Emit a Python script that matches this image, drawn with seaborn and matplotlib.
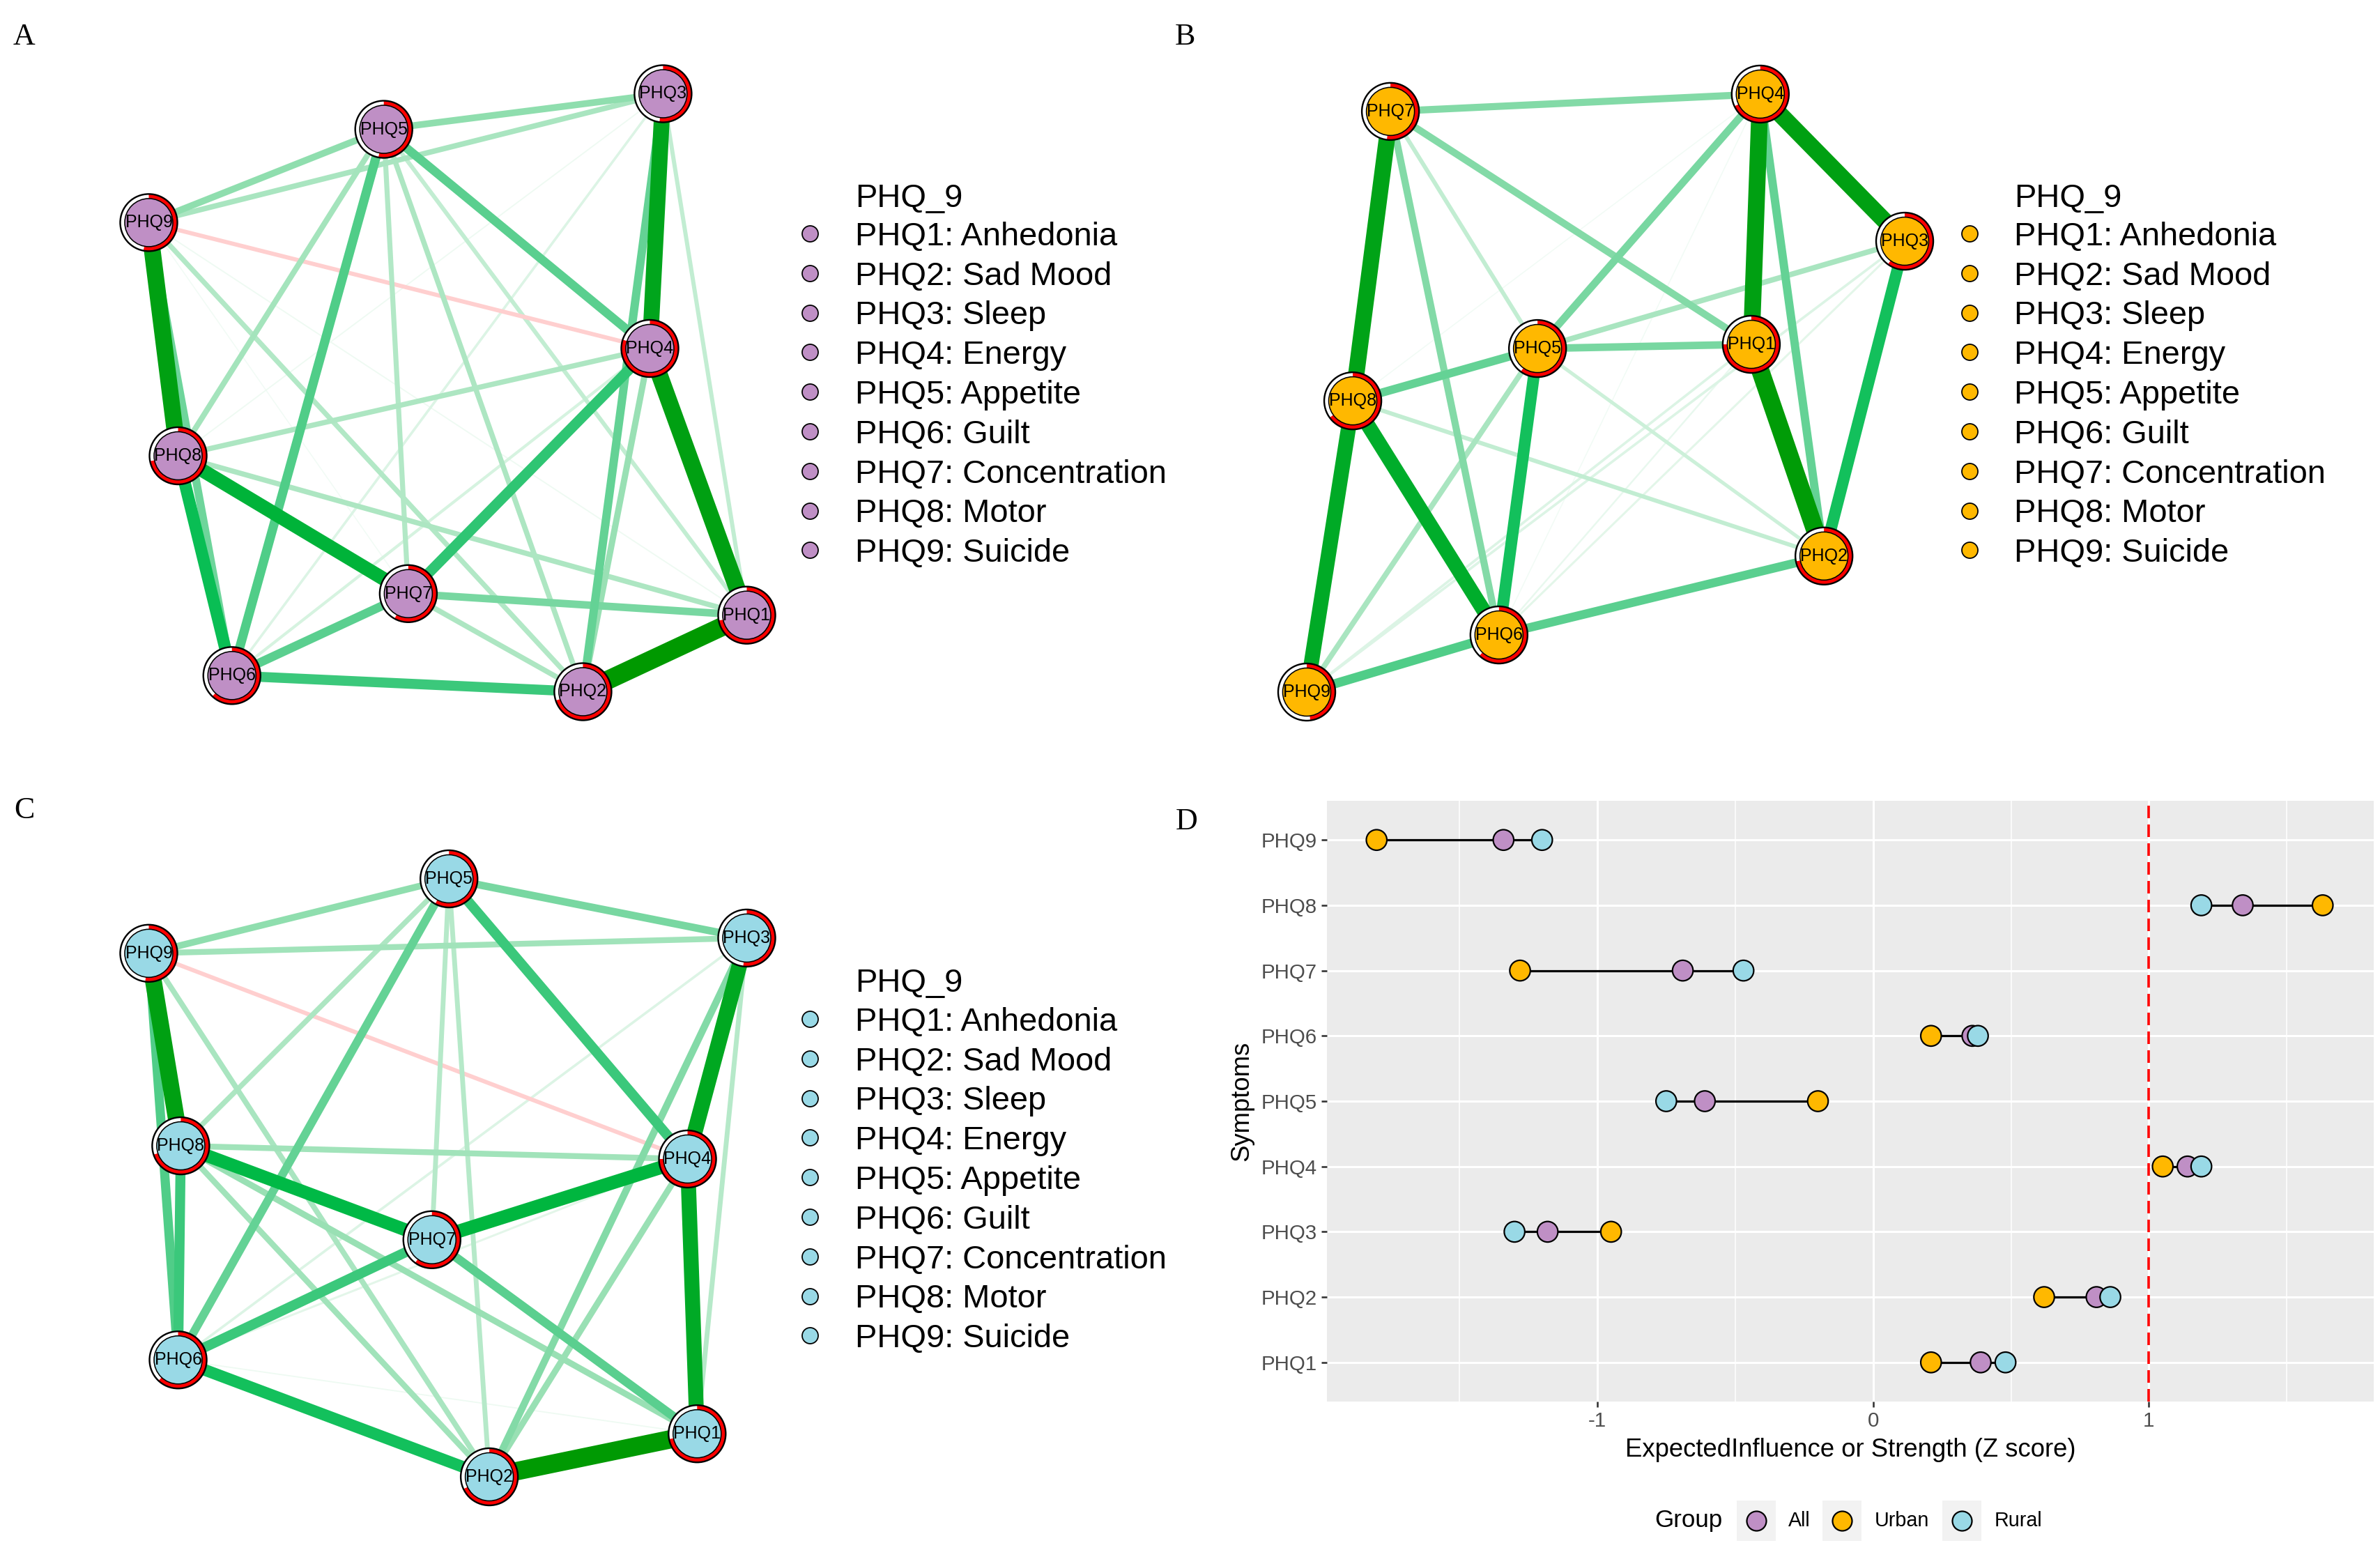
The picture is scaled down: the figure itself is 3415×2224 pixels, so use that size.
import numpy as np
import pandas as pd
import matplotlib
matplotlib.use("Agg")
import matplotlib.pyplot as plt
import seaborn as sns
from matplotlib.patches import Circle, Wedge, Rectangle
from matplotlib.colors import LinearSegmentedColormap

# ---------------- data ----------------
node_labels = ["PHQ1", "PHQ2", "PHQ3", "PHQ4", "PHQ5", "PHQ6", "PHQ7", "PHQ8", "PHQ9"]
legend_items = ["PHQ1: Anhedonia", "PHQ2: Sad Mood", "PHQ3: Sleep", "PHQ4: Energy",
                "PHQ5: Appetite", "PHQ6: Guilt", "PHQ7: Concentration", "PHQ8: Motor",
                "PHQ9: Suicide"]
legend_title = "PHQ_9"

# network layouts (qgraph-style coordinates in [-1, 1])
layout_A_x = [1.000, 0.452, 0.720, 0.676, -0.214, -0.722, -0.132, -0.902, -1.000]
layout_A_y = [-0.744, -1.000, 1.000, 0.148, 0.881, -0.946, -0.672, -0.211, 0.569]
layout_B_x = [0.487, 0.730, 1.000, 0.517, -0.228, -0.357, -0.720, -0.846, -1.000]
layout_B_y = [0.163, -0.545, 0.508, 1.000, 0.149, -0.809, 0.942, -0.026, -1.000]
layout_C_x = [0.834, 0.139, 1.000, 0.802, 0.004, -0.902, -0.053, -0.893, -1.000]
layout_C_y = [-0.856, -1.000, 0.802, 0.063, 1.000, -0.609, -0.207, 0.107, 0.751]

# edges: (node i, node j, weight)
edges_A = [(1, 2, 0.90), (1, 4, 0.80), (3, 4, 0.76), (8, 9, 0.80), (7, 8, 0.66),
           (6, 8, 0.58), (4, 7, 0.50), (2, 6, 0.48), (5, 6, 0.44), (4, 5, 0.42),
           (1, 7, 0.36), (2, 3, 0.40), (6, 7, 0.42), (6, 9, 0.38), (5, 9, 0.32),
           (3, 5, 0.32), (3, 9, 0.26), (5, 8, 0.27), (5, 7, 0.24), (2, 5, 0.25),
           (1, 5, 0.20), (2, 9, 0.24), (1, 9, 0.06), (4, 8, 0.25), (1, 8, 0.25),
           (2, 8, 0.06), (3, 6, 0.12), (3, 8, 0.06), (1, 3, 0.20), (4, 6, 0.14),
           (2, 4, 0.30), (2, 7, 0.25), (7, 9, 0.05), (4, 9, -0.20)]
edges_B = [(1, 4, 0.80), (1, 2, 0.86), (3, 4, 0.80), (7, 8, 0.78), (8, 9, 0.72),
           (6, 8, 0.70), (5, 6, 0.56), (2, 3, 0.56), (2, 6, 0.42), (6, 9, 0.44),
           (2, 4, 0.40), (4, 7, 0.34), (4, 5, 0.36), (1, 5, 0.36), (5, 8, 0.40),
           (1, 7, 0.34), (6, 7, 0.34), (5, 7, 0.20), (3, 5, 0.26), (5, 9, 0.26),
           (2, 8, 0.20), (2, 5, 0.17), (3, 9, 0.12), (1, 9, 0.12), (3, 6, 0.10),
           (4, 8, 0.05), (4, 6, 0.05), (1, 6, 0.08)]
edges_C = [(1, 2, 0.88), (8, 9, 0.80), (3, 4, 0.74), (1, 4, 0.72), (4, 7, 0.64),
           (7, 8, 0.62), (2, 6, 0.56), (6, 8, 0.48), (6, 9, 0.44), (6, 7, 0.48),
           (4, 5, 0.48), (5, 6, 0.40), (1, 7, 0.42), (3, 5, 0.36), (5, 9, 0.32),
           (3, 9, 0.28), (4, 8, 0.28), (2, 3, 0.34), (2, 4, 0.30), (1, 8, 0.30),
           (2, 8, 0.28), (2, 9, 0.26), (5, 8, 0.25), (5, 7, 0.23), (2, 5, 0.23),
           (1, 3, 0.23), (3, 6, 0.12), (1, 6, 0.06), (4, 6, 0.10), (4, 9, -0.20)]

# predictability (red ring fraction)
pie_A = [0.72, 0.70, 0.52, 0.80, 0.53, 0.62, 0.58, 0.72, 0.53]
pie_B = [0.75, 0.72, 0.60, 0.68, 0.60, 0.62, 0.52, 0.65, 0.48]
pie_C = [0.72, 0.68, 0.52, 0.75, 0.58, 0.62, 0.60, 0.70, 0.52]

# panel D: centrality z-scores
symptoms = ["PHQ1", "PHQ2", "PHQ3", "PHQ4", "PHQ5", "PHQ6", "PHQ7", "PHQ8", "PHQ9"]
groups = ["All", "Urban", "Rural"]
z_all = [0.39, 0.81, -1.18, 1.14, -0.61, 0.36, -0.69, 1.34, -1.34]
z_urban = [0.21, 0.62, -0.95, 1.05, -0.20, 0.21, -1.28, 1.63, -1.80]
z_rural = [0.48, 0.86, -1.30, 1.19, -0.75, 0.38, -0.47, 1.19, -1.20]
x_ticks = [-1, 0, 1]
x_minor = [-1.5, -0.5, 0.5, 1.5]
x_limits = (-1.98, 1.815)
x_ref = 1

# ---------------- style ----------------
COL_ALL = "#BF8FC5"
COL_URBAN = "#FFB800"
COL_RURAL = "#99D9E6"

sns.set_style("darkgrid", {"axes.facecolor": "#EBEBEB", "grid.color": "white"})
plt.rcParams["font.family"] = ["Liberation Sans", "DejaVu Sans"]
plt.rcParams["axes.unicode_minus"] = False

W, H, DPI = 3416, 2224, 200


def pt(px):
    return px * 72.0 / DPI


def box(left, top, right, bottom):
    return [left / W, 1 - bottom / H, (right - left) / W, (bottom - top) / H]


pos_cmap = LinearSegmentedColormap.from_list("pos", [
    (0.00, "#FFFFFF"), (0.10, "#E2F6E9"), (0.20, "#C2EDD2"), (0.30, "#98E0B3"),
    (0.40, "#64D295"), (0.50, "#30C574"), (0.60, "#00BC4C"), (0.70, "#00AD2C"),
    (0.80, "#00A012"), (0.90, "#009900"), (1.00, "#008A00")])
neg_cmap = LinearSegmentedColormap.from_list("neg", [
    (0.00, "#FFFFFF"), (0.20, "#FFCFCF"), (0.60, "#F07070"), (1.00, "#D00000")])

fig = plt.figure(figsize=(W / DPI, H / DPI), dpi=DPI)
fig.patch.set_facecolor("white")

ov = fig.add_axes([0, 0, 1, 1], zorder=0)
ov.set_xlim(0, W)
ov.set_ylim(H, 0)
ov.axis("off")
ov.patch.set_alpha(0)

S = 429.0  # px per layout unit


def draw_network(cx, cy, xs, ys, edges, pie, color, dot_x, text_x, title_y, first_y):
    m = 1.2
    ax = fig.add_axes(box(cx - m * S, cy - m * S, cx + m * S, cy + m * S), zorder=2)
    ax.set_xlim(-m, m)
    ax.set_ylim(-m, m)
    ax.axis("off")
    ax.patch.set_alpha(0)
    for i, j, w in sorted(edges, key=lambda e: abs(e[2])):
        col = pos_cmap(w) if w > 0 else neg_cmap(-w)
        ax.plot([xs[i - 1], xs[j - 1]], [ys[i - 1], ys[j - 1]], color=col,
                lw=pt(30 * abs(w)), solid_capstyle="butt", zorder=1)
    r_out = 41 / S
    r_in = 34.5 / S
    for k in range(len(xs)):
        c = (xs[k], ys[k])
        f = pie[k]
        ax.add_patch(Wedge(c, r_out, 0, 360, width=r_out - r_in, fc="white", ec="none", zorder=3))
        ax.add_patch(Wedge(c, r_out, 90 - 360 * f, 90, width=r_out - r_in, fc="#FF0000",
                           ec="none", zorder=4))
        ax.add_patch(Circle(c, r_out, fc="none", ec="black", lw=pt(2.4), zorder=5))
        ax.add_patch(Circle(c, r_in, fc=color, ec="black", lw=pt(1.6), zorder=6))
        ax.text(c[0], c[1], node_labels[k], ha="center", va="center",
                fontsize=pt(25), color="black", zorder=7)
    # legend
    cap = 0.716 * 47
    ov.text(text_x, title_y + cap / 2, legend_title, ha="left", va="baseline",
            fontsize=pt(47), color="black")
    for k, lab in enumerate(legend_items):
        y = first_y + 56.8 * k
        ov.plot([dot_x], [y], marker="o", ms=pt(23), mfc=color, mec="black",
                mew=pt(1.8), ls="none")
        ov.text(text_x, y + cap / 2, lab, ha="left", va="baseline",
                fontsize=pt(47), color="black")


draw_network(642.5, 563.5, layout_A_x, layout_A_y, edges_A, pie_A, COL_ALL,
             1162, 1227, 280, 335)
draw_network(2304, 564, layout_B_x, layout_B_y, edges_B, pie_B, COL_URBAN,
             2826, 2890, 280, 335)
draw_network(642.5, 1690, layout_C_x, layout_C_y, edges_C, pie_C, COL_RURAL,
             1162, 1227, 1406, 1462)

# panel letters
for lab, x, y in [("A", 35, 53), ("B", 1700, 53), ("C", 35, 1163), ("D", 1703, 1179)]:
    ov.text(x, y, lab, ha="center", va="center", fontsize=pt(44),
            family=["Liberation Serif", "DejaVu Serif"], color="black")

# ---------------- panel D ----------------
df = pd.DataFrame({
    "Symptom": symptoms * 3,
    "value": z_all + z_urban + z_rural,
    "Group": ["All"] * 9 + ["Urban"] * 9 + ["Rural"] * 9,
})
axD = fig.add_axes(box(1904, 1149, 3406, 2011), zorder=1)
sns.scatterplot(data=df, x="value", y="Symptom", hue="Group", hue_order=groups,
                palette={"All": COL_ALL, "Urban": COL_URBAN, "Rural": COL_RURAL},
                s=pt(29.5) ** 2, edgecolor="black", linewidth=pt(2.2), legend=False,
                ax=axD, zorder=4)
lo = [min(a, b, c) for a, b, c in zip(z_all, z_urban, z_rural)]
hi = [max(a, b, c) for a, b, c in zip(z_all, z_urban, z_rural)]
axD.hlines(symptoms, lo, hi, color="black", lw=pt(3.2), zorder=3)
axD.axvline(x_ref, color="#FF0000", ls=(0, (5, 2.5)), lw=pt(3.6), zorder=2)

axD.set_xlim(*x_limits)
axD.set_ylim(-0.6, len(symptoms) - 0.4)
axD.set_xticks(x_ticks)
axD.set_xticklabels([str(t) for t in x_ticks])
axD.set_xticks(x_minor, minor=True)
axD.set_axisbelow(True)
axD.grid(True, which="major", color="white", lw=pt(3.0))
axD.grid(True, which="minor", axis="x", color="white", lw=pt(1.5))
axD.grid(False, which="minor", axis="y")
for s in axD.spines.values():
    s.set_visible(False)
axD.tick_params(axis="both", which="major", length=pt(8), width=pt(2.6), color="#333333",
                labelcolor="#4D4D4D", labelsize=pt(29.5), pad=pt(6))
axD.tick_params(axis="both", which="minor", length=0)
axD.tick_params(axis="x", which="major", bottom=True)
axD.tick_params(axis="y", which="major", left=True)
axD.set_xlabel("ExpectedInfluence or Strength (Z score)", fontsize=pt(36.5),
               color="black", labelpad=pt(10))
axD.set_ylabel("Symptoms", fontsize=pt(36.5), color="black", labelpad=pt(10))

# legend for panel D (ggplot style, horizontal at bottom)
ly = 2182
ov.text(2374, ly, "Group", ha="left", va="center", fontsize=pt(35), color="black")
for gx, tx, lab, col in [(2520, 2566, "All", COL_ALL), (2643, 2690, "Urban", COL_URBAN),
                         (2815, 2862, "Rural", COL_RURAL)]:
    ov.add_patch(Rectangle((gx - 28, ly - 29), 56, 58, fc="#F2F2F2", ec="none"))
    ov.plot([gx], [ly], marker="o", ms=pt(28), mfc=col, mec="black", mew=pt(2.2), ls="none")
    ov.text(tx, ly, lab, ha="left", va="center", fontsize=pt(28.8), color="black")

fig.savefig("out.png", dpi=DPI, facecolor="white")
